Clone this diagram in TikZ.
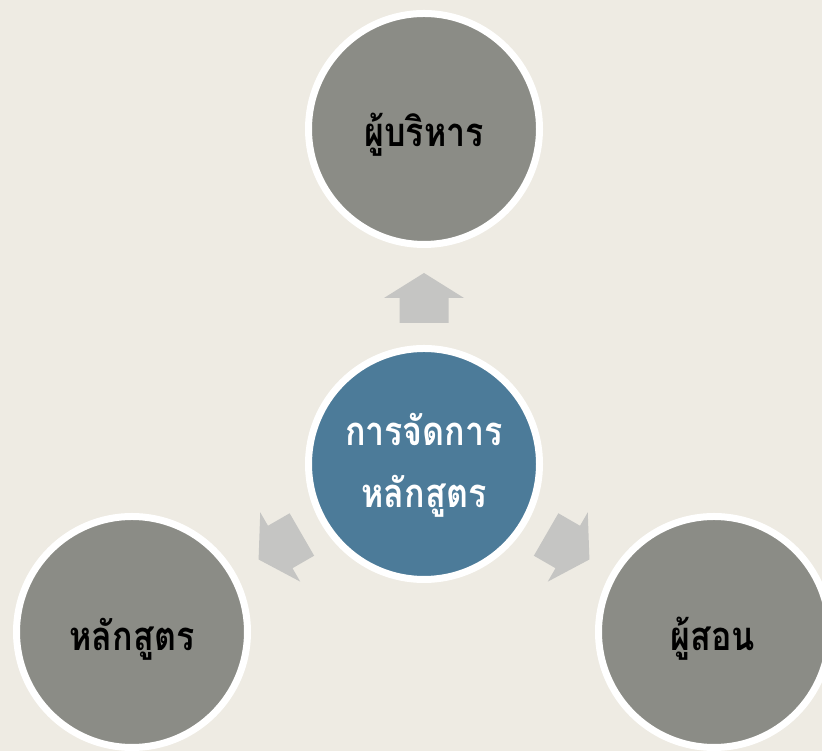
\documentclass[tikz,border=0pt]{standalone}
\usepackage{graphicx}
\usepackage{fontspec}
\newfontfamily\thaifont[Script=Thai]{Loma}
\definecolor{bgc}{HTML}{EEEBE3}
\definecolor{greyc}{HTML}{8B8C86}
\definecolor{bluec}{HTML}{4C7B99}
\definecolor{arrowc}{HTML}{C5C5C3}
\newcommand{\sq}[1]{\scalebox{0.85}[1]{#1}}
\tikzset{
  bubble/.style={circle, minimum size=231pt, inner sep=0pt, draw=white, line width=7pt, fill=greyc},
  hub/.style={bubble, fill=bluec},
  lbl/.style={font=\thaifont\bfseries\fontsize{40}{62}\selectfont, text=black, align=center, inner sep=0pt},
  hublbl/.style={lbl, text=white},
  arrowshape/.style={fill=arrowc, draw=none}
}
\begin{document}
\begin{tikzpicture}[x=1pt,y=1pt]
\useasboundingbox[fill=bgc] (0,0) rectangle (822,751);
\node[hub] (hub) at (424,287) {};
\node[bubble] (top) at (424,622) {};
\node[bubble] (left) at (132,119) {};
\node[bubble] (right) at (714,119) {};
\node[hublbl] (hubtxt) at (424,286) {\sq{การจัดการ}\\\sq{หลักสูตร}};
\node[lbl] (toptxt) at (424,616) {\sq{ผู้บริหาร}};
\node[lbl] (lefttxt) at (132,112) {\sq{หลักสูตร}};
\node[lbl] (righttxt) at (713,112) {\sq{ผู้สอน}};
\foreach \a in {90,210,330}{
  \begin{scope}[shift={(hub.center)}, rotate=\a]
    \fill[arrowshape] (191,0) -- (166,40) -- (166,24.5) -- (141,24.5) -- (141,-24.5) -- (166,-24.5) -- (166,-40) -- cycle;
  \end{scope}
}
\end{tikzpicture}
\end{document}
